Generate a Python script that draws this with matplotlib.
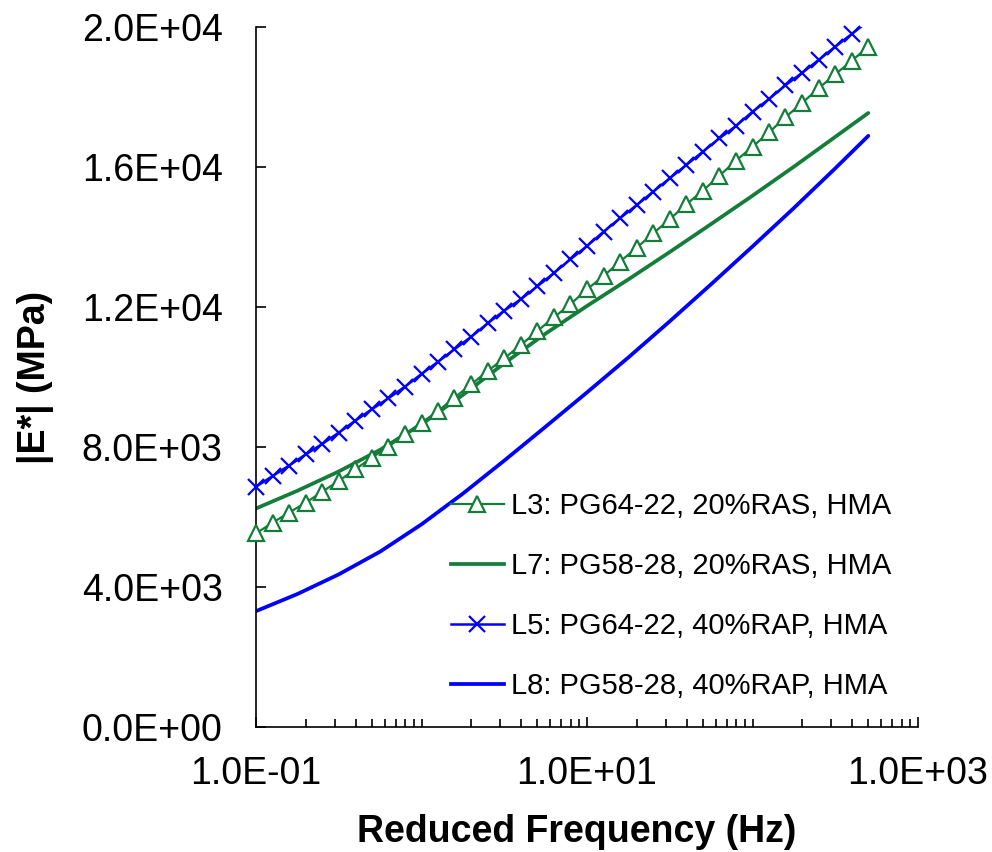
import matplotlib
matplotlib.use("Agg")
import matplotlib.pyplot as plt
import matplotlib.ticker as mticker
from matplotlib.lines import Line2D
import numpy as np

plt.rcParams['font.family'] = ['Liberation Sans', 'DejaVu Sans']

# frequencies of the marker series (Hz)
freq_pts = [0.1, 0.126, 0.158, 0.2, 0.251, 0.316, 0.398, 0.501, 0.631, 0.794,
            1.0, 1.26, 1.58, 2.0, 2.51, 3.16, 3.98, 5.01, 6.31, 7.94,
            10.0, 12.6, 15.8, 20.0, 25.1, 31.6, 39.8, 50.1, 63.1, 79.4,
            100.0, 126.0, 158.0, 200.0, 251.0, 316.0, 398.0, 501.0]

L3 = [5533, 5838, 6124, 6409, 6723, 7029, 7362, 7695, 8009, 8362,
      8695, 9029, 9409, 9791, 10171, 10534, 10914, 11314, 11705, 12080,
      12505, 12886, 13294, 13694, 14105, 14505, 14934, 15323, 15752, 16180,
      16580, 16991, 17420, 17837, 18249, 18649, 19037, 19437]

L5 = [6866, 7171, 7466, 7791, 8086, 8409, 8751, 9077, 9391, 9723,
      10086, 10437, 10791, 11151, 11534, 11894, 12220, 12590, 12970, 13363,
      13743, 14152, 14534, 14914, 15294, 15677, 16057, 16437, 16820, 17171,
      17580, 17943, 18334, 18694, 19057, 19437, 19800, 20170]

# frequencies of the solid lines (Hz)
freq_line = [0.1, 0.178, 0.316, 0.562, 1.0, 1.78, 3.16, 5.62,
             10.0, 17.8, 31.6, 56.2, 100.0, 178.0, 316.0, 501.0]

L7 = [6243, 6750, 7300, 7920, 8650, 9490, 10390, 11240,
      12030, 12790, 13570, 14370, 15180, 16010, 16860, 17543]

L8 = [3310, 3800, 4360, 5010, 5790, 6670, 7610, 8580,
      9560, 10560, 11590, 12650, 13730, 14830, 15960, 16890]

labels = ["L3: PG64-22, 20%RAS, HMA", "L7: PG58-28, 20%RAS, HMA",
          "L5: PG64-22, 40%RAP, HMA", "L8: PG58-28, 40%RAP, HMA"]

green = '#147d3a'
blue = '#0000ff'

fig = plt.figure(figsize=(9.92, 8.52), dpi=100)
ax = fig.add_axes([256/992, 125/852, 662/992, 700/852])

ax.plot(freq_pts, L3, '-', color=green, lw=1.6, marker='^', ms=11,
        mfc='white', mec=green, mew=1.6, clip_on=False, zorder=3)
ax.plot(freq_line, L7, '-', color=green, lw=2.7, solid_capstyle='round', zorder=2)
ax.plot(freq_pts, L5, '-', color=blue, lw=1.8, zorder=3)
ax.plot(freq_pts, L5, ls='none', color=blue, marker='x', ms=11, mew=1.6,
        markevery=list(range(37)), clip_on=False, zorder=3)
ax.plot(freq_line, L8, '-', color=blue, lw=2.7, solid_capstyle='round', zorder=2)

handles = [Line2D([], [], color=green, lw=1.6, marker='^', ms=11, mfc='white', mec=green, mew=1.6),
           Line2D([], [], color=green, lw=2.7),
           Line2D([], [], color=blue, lw=1.8, marker='x', ms=11, mew=1.6),
           Line2D([], [], color=blue, lw=2.7)]
ax.legend(handles, labels, loc='upper left', bbox_to_anchor=(451/992, 1 - 492/852),
          bbox_transform=fig.transFigure, frameon=False, fontsize=21,
          handlelength=1.8, handletextpad=0.25, labelspacing=1.1,
          borderpad=0, borderaxespad=0)

ax.set_xscale('log')
ax.set_xlim(0.1, 1000)
ax.set_ylim(0, 20000)

ax.xaxis.set_major_locator(mticker.FixedLocator([0.1, 10, 1000]))
ax.xaxis.set_minor_locator(mticker.LogLocator(base=10, subs=np.arange(1, 10), numticks=20))
ax.xaxis.set_minor_formatter(mticker.NullFormatter())
ax.xaxis.set_major_formatter(mticker.FuncFormatter(lambda v, p: f"{v:.1E}"))
ax.yaxis.set_major_locator(mticker.MultipleLocator(4000))
ax.yaxis.set_major_formatter(mticker.FuncFormatter(lambda v, p: f"{v:.1E}"))

for s in ['top', 'right']:
    ax.spines[s].set_visible(False)
for s in ['left', 'bottom']:
    ax.spines[s].set_linewidth(1.2)

ax.tick_params(axis='both', which='major', direction='in', length=7, width=1.2,
               labelsize=27, colors='black')
ax.tick_params(axis='x', which='minor', direction='in', length=5.5, width=1.2)
ax.tick_params(axis='y', which='major', pad=24)
ax.tick_params(axis='x', which='major', pad=21)

ax.set_xlabel("Reduced Frequency (Hz)", fontsize=27, fontweight='bold', labelpad=16,
              x=(577 - 256) / 662)
ax.set_ylabel("|E*| (MPa)", fontsize=27, fontweight='bold', labelpad=20)

fig.savefig("out.png", dpi=100)
